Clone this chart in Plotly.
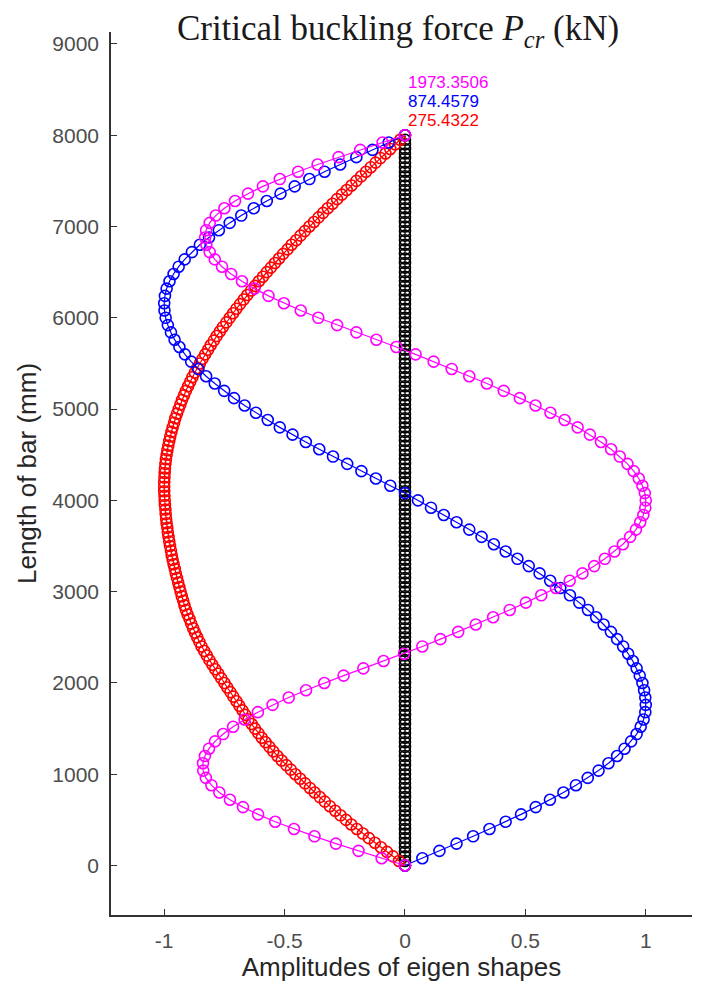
import plotly.graph_objects as go

# node positions along the bar (mm) - dense grid (undeformed bar, 1st mode)
length_a = [
    0, 50, 100, 150, 200, 250, 300, 350, 400, 450, 500, 550, 600, 650, 700, 750, 800, 850, 900, 950,
    1000, 1050, 1100, 1150, 1200, 1250, 1300, 1350, 1400, 1450, 1500, 1550, 1600, 1650, 1700, 1750, 1800, 1850, 1900, 1950,
    2000, 2050, 2100, 2150, 2200, 2250, 2300, 2350, 2400, 2450, 2500, 2550, 2600, 2650, 2700, 2750, 2800, 2850, 2900, 2950,
    3000, 3050, 3100, 3150, 3200, 3250, 3300, 3350, 3400, 3450, 3500, 3550, 3600, 3650, 3700, 3750, 3800, 3850, 3900, 3950,
    4000, 4050, 4100, 4150, 4200, 4250, 4300, 4350, 4400, 4450, 4500, 4550, 4600, 4650, 4700, 4750, 4800, 4850, 4900, 4950,
    5000, 5050, 5100, 5150, 5200, 5250, 5300, 5350, 5400, 5450, 5500, 5550, 5600, 5650, 5700, 5750, 5800, 5850, 5900, 5950,
    6000, 6050, 6100, 6150, 6200, 6250, 6300, 6350, 6400, 6450, 6500, 6550, 6600, 6650, 6700, 6750, 6800, 6850, 6900, 6950,
    7000, 7050, 7100, 7150, 7200, 7250, 7300, 7350, 7400, 7450, 7500, 7550, 7600, 7650, 7700, 7750, 7800, 7850, 7900, 7950,
    8000,
]

# node positions along the bar (mm) - coarser grid (2nd and 3rd mode)
length_b = [
    0, 80, 160, 240, 320, 400, 480, 560, 640, 720,
    800, 880, 960, 1040, 1120, 1200, 1280, 1360, 1440, 1520,
    1600, 1680, 1760, 1840, 1920, 2000, 2080, 2160, 2240, 2320,
    2400, 2480, 2560, 2640, 2720, 2800, 2880, 2960, 3040, 3120,
    3200, 3280, 3360, 3440, 3520, 3600, 3680, 3760, 3840, 3920,
    4000, 4080, 4160, 4240, 4320, 4400, 4480, 4560, 4640, 4720,
    4800, 4880, 4960, 5040, 5120, 5200, 5280, 5360, 5440, 5520,
    5600, 5680, 5760, 5840, 5920, 6000, 6080, 6160, 6240, 6320,
    6400, 6480, 6560, 6640, 6720, 6800, 6880, 6960, 7040, 7120,
    7200, 7280, 7360, 7440, 7520, 7600, 7680, 7760, 7840, 7920,
    8000,
]

# undeformed bar
black_x = [0.0] * len(length_a)

# mode 1 (275.4322 kN)
red_x = [
    0.0, -0.025, -0.050, -0.075, -0.100, -0.125, -0.150, -0.175, -0.200, -0.223, -0.245, -0.268, -0.290, -0.312, -0.333, -0.354, -0.375, -0.395, -0.415, -0.435,
    -0.455, -0.474, -0.493, -0.512, -0.530, -0.547, -0.563, -0.579, -0.595, -0.609, -0.623, -0.637, -0.650, -0.663, -0.675, -0.688, -0.700, -0.713, -0.725, -0.738,
    -0.750, -0.763, -0.775, -0.788, -0.800, -0.812, -0.823, -0.834, -0.845, -0.854, -0.863, -0.872, -0.880, -0.888, -0.895, -0.903, -0.910, -0.916, -0.921, -0.927,
    -0.932, -0.937, -0.942, -0.947, -0.952, -0.956, -0.961, -0.965, -0.969, -0.972, -0.976, -0.979, -0.982, -0.985, -0.987, -0.990, -0.992, -0.994, -0.995, -0.997,
    -0.998, -0.999, -1.000, -1.000, -1.000, -0.999, -0.998, -0.997, -0.995, -0.993, -0.990, -0.987, -0.983, -0.979, -0.975, -0.970, -0.965, -0.959, -0.954, -0.947,
    -0.940, -0.933, -0.926, -0.918, -0.910, -0.901, -0.892, -0.883, -0.873, -0.863, -0.852, -0.841, -0.830, -0.818, -0.807, -0.794, -0.782, -0.769, -0.756, -0.742,
    -0.728, -0.714, -0.700, -0.685, -0.670, -0.655, -0.639, -0.623, -0.607, -0.590, -0.574, -0.557, -0.540, -0.523, -0.506, -0.488, -0.471, -0.452, -0.434, -0.416,
    -0.397, -0.378, -0.359, -0.340, -0.321, -0.301, -0.282, -0.262, -0.242, -0.222, -0.202, -0.182, -0.162, -0.142, -0.122, -0.102, -0.081, -0.061, -0.041, -0.020,
    0.0,
]

# mode 2 (874.4579 kN)
blue_x = [
    0.0, 0.072, 0.143, 0.214, 0.283, 0.351, 0.418, 0.482, 0.543, 0.602,
    0.658, 0.710, 0.759, 0.804, 0.845, 0.881, 0.912, 0.939, 0.962, 0.979,
    0.991, 0.998, 1.000, 0.998, 0.993, 0.986, 0.975, 0.962, 0.946, 0.927,
    0.906, 0.881, 0.855, 0.825, 0.794, 0.760, 0.724, 0.685, 0.645, 0.603,
    0.559, 0.514, 0.467, 0.418, 0.369, 0.318, 0.267, 0.214, 0.161, 0.108,
    0.054, 0.000, -0.061, -0.121, -0.181, -0.240, -0.299, -0.356, -0.412, -0.467,
    -0.520, -0.570, -0.619, -0.666, -0.710, -0.751, -0.790, -0.826, -0.858, -0.888,
    -0.914, -0.937, -0.957, -0.972, -0.985, -0.994, -0.999, -1.000, -0.997, -0.990,
    -0.978, -0.961, -0.940, -0.915, -0.885, -0.852, -0.814, -0.773, -0.728, -0.680,
    -0.628, -0.574, -0.517, -0.458, -0.397, -0.334, -0.269, -0.202, -0.135, -0.068,
    0.0,
]

# mode 3 (1973.3506 kN)
magenta_x = [
    0.0, -0.097, -0.193, -0.287, -0.376, -0.461, -0.539, -0.610, -0.673, -0.727,
    -0.771, -0.804, -0.827, -0.838, -0.839, -0.831, -0.814, -0.789, -0.755, -0.714,
    -0.666, -0.611, -0.550, -0.483, -0.411, -0.335, -0.255, -0.173, -0.089, -0.004,
    0.072, 0.147, 0.221, 0.294, 0.366, 0.435, 0.502, 0.566, 0.627, 0.684,
    0.737, 0.786, 0.830, 0.870, 0.905, 0.935, 0.959, 0.977, 0.990, 0.998,
    1.000, 0.996, 0.986, 0.971, 0.950, 0.924, 0.892, 0.856, 0.814, 0.768,
    0.717, 0.663, 0.604, 0.542, 0.477, 0.410, 0.340, 0.267, 0.194, 0.119,
    0.044, -0.036, -0.119, -0.202, -0.282, -0.360, -0.433, -0.503, -0.567, -0.625,
    -0.677, -0.722, -0.760, -0.790, -0.811, -0.825, -0.830, -0.826, -0.811, -0.786,
    -0.750, -0.706, -0.652, -0.590, -0.520, -0.444, -0.363, -0.276, -0.186, -0.093,
    0.0,
]

forces = ["1973.3506", "874.4579", "275.4322"]
force_colors = ["#ff00ff", "#0000ff", "#ff0000"]
force_y = [8582, 8374, 8166]

x_ticks = [-1, -0.5, 0, 0.5, 1]
x_ticktext = ["-1", "-0.5", "0", "0.5", "1"]
y_ticks = [0, 1000, 2000, 3000, 4000, 5000, 6000, 7000, 8000, 9000]

fig = go.Figure()

# plotting order like the original: bar, then modes 1..3
curves = [
    (black_x, length_a, "#000000"),
    (red_x, length_a, "#ff0000"),
    (blue_x, length_b, "#0000ff"),
    (magenta_x, length_b, "#ff00ff"),
]
for xs, ys, col in curves:
    fig.add_trace(go.Scatter(
        x=xs, y=ys, mode="lines+markers",
        line=dict(color=col, width=1.2),
        marker=dict(symbol="circle-open", size=11, color=col, line=dict(width=1.6, color=col)),
        hoverinfo="skip",
    ))

# critical forces written above the bar
for txt, col, yy in zip(forces, force_colors, force_y):
    fig.add_annotation(x=0.005, y=yy, text=txt, showarrow=False, xanchor="left", yanchor="middle",
                       font=dict(family="Liberation Sans, Arial", size=17, color=col))

axis_font = dict(family="Liberation Sans, Arial", size=21, color="#4d4d4d")
title_font = dict(family="Liberation Sans, Arial", size=26, color="#262626")

fig.update_xaxes(
    range=[-1.221, 1.192], tickvals=x_ticks, ticktext=x_ticktext,
    ticks="inside", ticklen=6, tickwidth=1.3, tickcolor="#333333",
    showline=True, linecolor="#333333", linewidth=1.5,
    showgrid=False, zeroline=False, tickfont=axis_font, ticklabelstandoff=6,
    title=dict(text="Amplitudes of eigen shapes", font=title_font, standoff=4),
)
fig.update_yaxes(
    range=[-542, 9131], tickvals=y_ticks,
    ticks="inside", ticklen=6, tickwidth=1.3, tickcolor="#333333",
    showline=True, linecolor="#333333", linewidth=1.5,
    showgrid=False, zeroline=False, tickfont=axis_font, ticklabelstandoff=6,
    title=dict(text="Length of bar (mm)", font=title_font, standoff=8),
)

# page body has an 8px margin, so the figure is a bit smaller than the window
fig.update_layout(
    width=694, height=996,
    margin=dict(l=103, r=10, t=24, b=89),
    plot_bgcolor="white", paper_bgcolor="white",
    showlegend=False,
    title=dict(text="Critical buckling force <i>P<sub>cr</sub></i> (kN)",
               font=dict(family="Liberation Serif, serif", size=35, color="#1a1a1a"),
               x=390 / 694, xanchor="center", y=1 - 20 / 996, yanchor="middle"),
)

fig.write_html("out.html")
